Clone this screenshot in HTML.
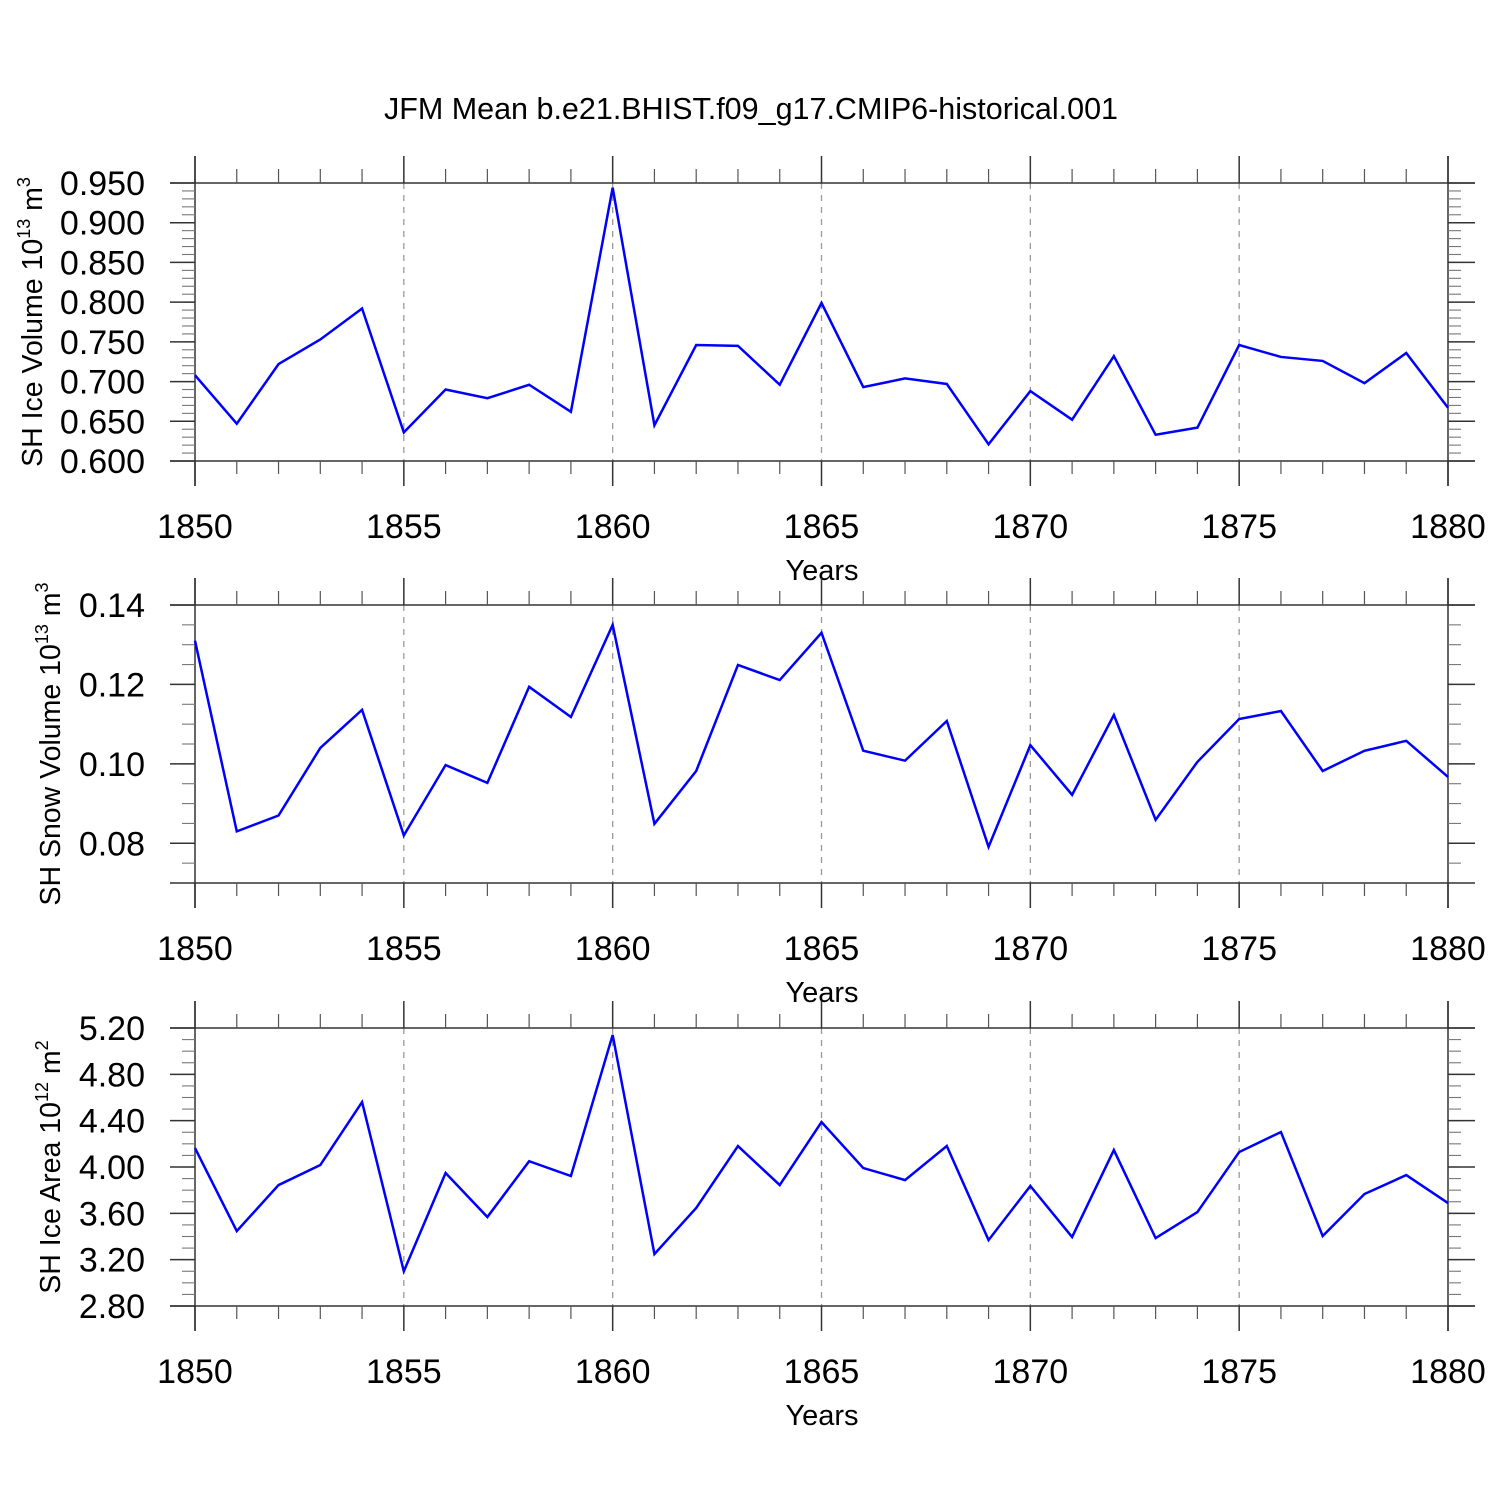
<!DOCTYPE html>
<html><head><meta charset="utf-8"><style>
html,body{margin:0;padding:0;background:#fff;}
svg{display:block;font-family:"Liberation Sans",Arial,sans-serif;}
</style></head><body>
<svg id="chart" width="1500" height="1500" viewBox="0 0 1500 1500" xmlns="http://www.w3.org/2000/svg">
<text x="751" y="119" font-size="30.5" text-anchor="middle">JFM Mean b.e21.BHIST.f09_g17.CMIP6-historical.001</text>
</svg>
<script>
const years = [1850,1851,1852,1853,1854,1855,1856,1857,1858,1859,1860,1861,1862,1863,1864,1865,1866,1867,1868,1869,1870,1871,1872,1873,1874,1875,1876,1877,1878,1879,1880];
const iceVolume = [0.708,0.647,0.722,0.753,0.792,0.636,0.690,0.679,0.696,0.662,0.944,0.645,0.746,0.745,0.696,0.799,0.693,0.704,0.697,0.621,0.688,0.652,0.732,0.633,0.642,0.746,0.731,0.726,0.698,0.736,0.667];
const snowVolume = [0.131,0.083,0.087,0.104,0.1136,0.082,0.0997,0.0952,0.1194,0.1118,0.135,0.0849,0.0982,0.1249,0.1211,0.133,0.1033,0.1008,0.1108,0.0791,0.1047,0.0922,0.1123,0.0859,0.1005,0.1113,0.1133,0.0982,0.1033,0.1058,0.0967];
const iceArea = [4.164,3.447,3.844,4.017,4.561,3.10,3.948,3.568,4.05,3.922,5.14,3.248,3.646,4.181,3.844,4.388,3.991,3.887,4.181,3.369,3.836,3.395,4.146,3.386,3.611,4.129,4.302,3.404,3.767,3.93,3.689];
const xTicks = [1850,1855,1860,1865,1870,1875,1880];
const volTicks = ["0.600","0.650","0.700","0.750","0.800","0.850","0.900","0.950"];
const snowTicks = ["0.08","0.10","0.12","0.14"];
const areaTicks = ["2.80","3.20","3.60","4.00","4.40","4.80","5.20"];

const svg = document.getElementById('chart');
const NS = 'http://www.w3.org/2000/svg';
const X0 = 195, X1 = 1448;
function xs(v){ return X0 + (v - 1850) / 30 * (X1 - X0); }
function mk(tag, attrs, parent){ const e = document.createElementNS(NS, tag); for (const k in attrs) e.setAttribute(k, attrs[k]); (parent||svg).appendChild(e); return e; }

const panels = [
 {key:'ice-volume', top:183, bot:461, min:0.6, max:0.95, data:iceVolume, ticks:volTicks, minor:0.01, title:'SH Ice Volume 10', sup:'13', unit:' m', usup:'3', tx:42},
 {key:'snow-volume', top:605, bot:883, min:0.07, max:0.14, data:snowVolume, ticks:snowTicks, minor:0.005, title:'SH Snow Volume 10', sup:'13', unit:' m', usup:'3', tx:60},
 {key:'ice-area', top:1028, bot:1306, min:2.8, max:5.2, data:iceArea, ticks:areaTicks, minor:0.1, title:'SH Ice Area 10', sup:'12', unit:' m', usup:'2', tx:60}
];

panels.forEach(p => {
  const g = mk('g', {});
  
  
  const ys = v => p.bot - (v - p.min) / (p.max - p.min) * (p.bot - p.top);
  xTicks.slice(1, -1).forEach(t => {
    const l = mk('line', {x1:xs(t), x2:xs(t), y1:p.top, y2:p.bot, stroke:'#999', 'stroke-width':1.3, 'stroke-dasharray':'6 6'}, g);
    
    
  });
  [[170,p.top,1475,p.top],[170,p.bot,1475,p.bot],[X0,p.top-27,X0,p.bot+25],[X1,p.top-27,X1,p.bot+25]].forEach(a => {
    const l = mk('line', {x1:a[0], y1:a[1], x2:a[2], y2:a[3], stroke:'#333', 'stroke-width':1.5}, g);
    
    
  });
  for (let yr = 1850; yr <= 1880; yr++) {
    const x = xs(yr);
    if (yr % 5 === 0) {
      mk('line', {x1:x, x2:x, y1:p.top-27, y2:p.top, stroke:'#333', 'stroke-width':1.5}, g);
      mk('line', {x1:x, x2:x, y1:p.bot, y2:p.bot+25, stroke:'#333', 'stroke-width':1.5}, g);
      const t = mk('text', {x:x, y:p.bot+77, 'font-size':34, 'text-anchor':'middle'}, g);
      t.textContent = yr;
      
      
    } else {
      mk('line', {x1:x, x2:x, y1:p.top-14, y2:p.top, stroke:'#555', 'stroke-width':1.2}, g);
      mk('line', {x1:x, x2:x, y1:p.bot, y2:p.bot+13, stroke:'#555', 'stroke-width':1.2}, g);
    }
  }
  const n = Math.round((p.max - p.min) / p.minor);
  for (let i = 1; i < n; i++) {
    const y = ys(p.min + i * p.minor);
    mk('line', {x1:X0-13, x2:X0, y1:y, y2:y, stroke:'#777', 'stroke-width':1.1}, g);
    mk('line', {x1:X1, x2:X1+13, y1:y, y2:y, stroke:'#777', 'stroke-width':1.1}, g);
  }
  p.ticks.forEach(s => {
    const y = ys(parseFloat(s));
    mk('line', {x1:170, x2:X0, y1:y, y2:y, stroke:'#333', 'stroke-width':1.5}, g);
    mk('line', {x1:X1, x2:1475, y1:y, y2:y, stroke:'#333', 'stroke-width':1.5}, g);
    const t = mk('text', {x:145, y:y+12, 'font-size':34, 'text-anchor':'end'}, g);
    t.textContent = s;
    
    
  });
  const pts = p.data.map((v, i) => xs(years[i]) + ',' + ys(v)).join(' ');
  const pl = mk('polyline', {points:pts, fill:'none', stroke:'#0000ff', 'stroke-width':2.5, 'stroke-linejoin':'miter'}, g);
  
  
  const xt = mk('text', {x:822, y:p.bot+119, 'font-size':29, 'text-anchor':'middle'}, g);
  xt.textContent = 'Years';
  
  
  const cy = (p.top + p.bot) / 2;
  const yt = mk('text', {x:0, y:0, 'font-size':28.5, 'text-anchor':'middle', transform:'translate(' + p.tx + ',' + cy + ') rotate(-90)'}, g);
  
  
  const t1 = mk('tspan', {}, yt); t1.textContent = p.title;
  const t2 = mk('tspan', {dy:-12, 'font-size':18}, yt); t2.textContent = p.sup;
  const t3 = mk('tspan', {dy:12}, yt); t3.textContent = p.unit;
  const t4 = mk('tspan', {dy:-12, 'font-size':18}, yt); t4.textContent = p.usup;
});
</script>
</body></html>
